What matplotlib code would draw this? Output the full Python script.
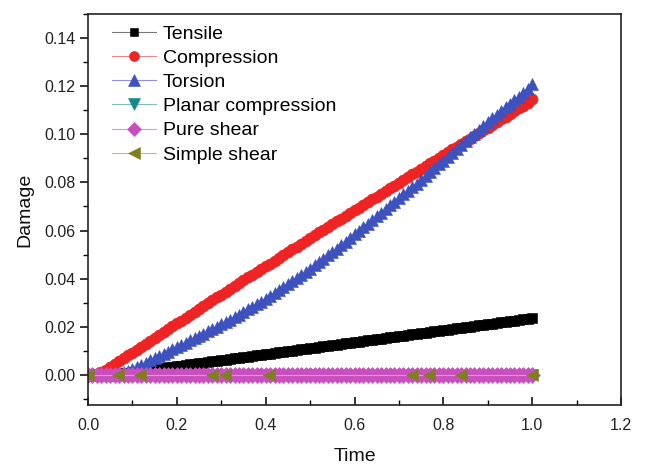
import matplotlib
matplotlib.use("Agg")
import matplotlib.pyplot as plt
from matplotlib.ticker import MultipleLocator

plt.rcParams['font.family'] = ['Liberation Sans', 'DejaVu Sans']

time = [round(i * 0.01, 2) for i in range(101)]

tensile = [0.0, 0.0, 0.0, 0.0, 0.0, 0.0, 0.0002, 0.0004, 0.0006, 0.0009,
           0.0011, 0.0014, 0.0016, 0.0019, 0.0021, 0.0024, 0.0026, 0.0029, 0.0031, 0.0034,
           0.00360, 0.00385, 0.00410, 0.00435, 0.00460, 0.00485, 0.00510, 0.00535, 0.00560, 0.00585,
           0.00610, 0.00635, 0.00660, 0.00685, 0.00710, 0.00735, 0.00760, 0.00785, 0.00810, 0.00835,
           0.00860, 0.00885, 0.00910, 0.00935, 0.00960, 0.00985, 0.01010, 0.01035, 0.01060, 0.01085,
           0.01110, 0.01135, 0.01160, 0.01185, 0.01210, 0.01235, 0.01260, 0.01285, 0.01310, 0.01335,
           0.01360, 0.01385, 0.01410, 0.01435, 0.01460, 0.01485, 0.01510, 0.01535, 0.01560, 0.01585,
           0.01610, 0.01635, 0.01660, 0.01685, 0.01710, 0.01735, 0.01760, 0.01785, 0.01810, 0.01835,
           0.01860, 0.01885, 0.01910, 0.01935, 0.01960, 0.01985, 0.02010, 0.02035, 0.02060, 0.02085,
           0.02110, 0.02135, 0.02160, 0.02185, 0.02210, 0.02235, 0.02260, 0.02285, 0.02310, 0.02335,
           0.02360]

compression = [0.0, 0.0, 0.0003, 0.0012, 0.0022, 0.0033, 0.0045, 0.0057, 0.0069, 0.0081,
               0.0093, 0.0105, 0.0118, 0.0130, 0.0142, 0.0154, 0.0166, 0.0178, 0.0190, 0.0202,
               0.0214, 0.0226, 0.0238, 0.0250, 0.0262, 0.0274, 0.0286, 0.0298, 0.0310, 0.0322,
               0.0334, 0.0346, 0.0358, 0.0369, 0.0381, 0.0393, 0.0405, 0.0416, 0.0428, 0.0440,
               0.0452, 0.0463, 0.0475, 0.0487, 0.0499, 0.0510, 0.0522, 0.0533, 0.0545, 0.0556,
               0.0568, 0.0580, 0.0592, 0.0603, 0.0615, 0.0626, 0.0638, 0.0649, 0.0661, 0.0672,
               0.0684, 0.0695, 0.0707, 0.0718, 0.0730, 0.0741, 0.0753, 0.0764, 0.0776, 0.0787,
               0.0799, 0.0810, 0.0822, 0.0833, 0.0845, 0.0856, 0.0868, 0.0879, 0.0891, 0.0902,
               0.0914, 0.0925, 0.0937, 0.0948, 0.0960, 0.0971, 0.0982, 0.0994, 0.1005, 0.1016,
               0.1028, 0.1039, 0.1051, 0.1062, 0.1074, 0.1085, 0.1096, 0.1108, 0.1119, 0.1131,
               0.1145]

torsion = [0.0, 0.0, 0.0, 0.0, 0.0, 0.0, 0.0003, 0.0007, 0.0012, 0.0018,
           0.0025, 0.0033, 0.0042, 0.0051, 0.0060, 0.0069, 0.0078, 0.0087, 0.0097, 0.0106,
           0.0116, 0.0125, 0.0134, 0.0144, 0.0153, 0.0163, 0.0172, 0.0182, 0.0191, 0.0201,
           0.0210, 0.0220, 0.0230, 0.0240, 0.0250, 0.0261, 0.0272, 0.0283, 0.0294, 0.0305,
           0.0316, 0.0328, 0.0340, 0.0352, 0.0364, 0.0376, 0.0389, 0.0402, 0.0415, 0.0428,
           0.0441, 0.0455, 0.0469, 0.0483, 0.0497, 0.0511, 0.0525, 0.0540, 0.0554, 0.0569,
           0.0584, 0.0599, 0.0614, 0.0629, 0.0644, 0.0659, 0.0674, 0.0689, 0.0705, 0.0720,
           0.0735, 0.0750, 0.0765, 0.0780, 0.0795, 0.0811, 0.0827, 0.0843, 0.0859, 0.0875,
           0.0891, 0.0907, 0.0923, 0.0939, 0.0955, 0.0971, 0.0987, 0.1003, 0.1019, 0.1035,
           0.1051, 0.1066, 0.1082, 0.1097, 0.1112, 0.1127, 0.1142, 0.1157, 0.1172, 0.1188,
           0.1208]

planar_time = [0.00, 0.06, 0.50, 1.00]
planar = [0.0, 0.0, 0.0, 0.0]

pure_shear = [0.0] * 101

simple_time = [0.00, 0.068, 0.117, 0.279, 0.309, 0.408, 0.730, 0.768, 0.840, 1.00]
simple_shear = [0.0] * 10

fig = plt.figure(figsize=(6.47, 4.65), dpi=100)
ax = fig.add_axes([88 / 647, 1 - 405 / 465, 533 / 647, 391 / 465])

ax.plot(time, tensile, color='#777777', lw=0.8, marker='s', ms=6.8, mew=0.4,
        mfc='black', mec='black', label='Tensile')
ax.plot(time, compression, color='#e88a8a', lw=0.8, marker='o', ms=8.0, mew=0.4,
        mfc='#ee2424', mec='#ee2424', label='Compression')
ax.plot(time, torsion, color='#8f8fe6', lw=0.8, marker='^', ms=9.0, mew=0.4,
        mfc='#3d52be', mec='#3d52be', label='Torsion')
ax.plot(planar_time, planar, color='#7fbdbd', lw=0.8, marker='v', ms=9.0, mew=0.4,
        mfc='#168a8a', mec='#168a8a', label='Planar compression')
ax.plot(time, pure_shear, color='#e98fe0', lw=0.8, marker='D', ms=8.3, mew=0.4,
        mfc='#c94fc0', mec='#c94fc0', label='Pure shear')
ax.plot(simple_time, simple_shear, color='#bcbc7a', lw=0.8, marker='<', ms=9.0, mew=0.4,
        mfc='#7f7f1e', mec='#7f7f1e', label='Simple shear')

ax.set_xlim(0, 1.2)
ax.set_ylim(-0.0125, 0.150)
ax.xaxis.set_major_locator(MultipleLocator(0.2))
ax.xaxis.set_minor_locator(MultipleLocator(0.1))
ax.yaxis.set_major_locator(MultipleLocator(0.02))
ax.yaxis.set_minor_locator(MultipleLocator(0.01))
ax.xaxis.set_major_formatter(plt.FuncFormatter(lambda v, p: f"{v:.1f}"))
ax.yaxis.set_major_formatter(plt.FuncFormatter(lambda v, p: f"{v:.2f}"))

ax.tick_params(axis='x', which='major', direction='in', length=6, width=1.1,
               labelsize=11.5, pad=9, labelcolor='#222222')
ax.tick_params(axis='x', which='minor', direction='in', length=3.5, width=1.0)
ax.tick_params(axis='y', which='major', direction='out', length=6, width=1.1,
               labelsize=11.5, pad=3, labelcolor='#222222')
ax.tick_params(axis='y', which='minor', direction='out', length=3.5, width=1.0)
for s in ax.spines.values():
    s.set_linewidth(1.2)
    s.set_color('#222222')

ax.set_xlabel('Time', fontsize=14, labelpad=11, color='#111111')
ax.set_ylabel('Damage', fontsize=14, labelpad=8, color='#111111')

leg = ax.legend(loc='upper left', bbox_to_anchor=(0.045, 0.972), frameon=False,
                fontsize=14, borderpad=0, borderaxespad=0, labelspacing=0.34,
                handlelength=2.27, handletextpad=0.36, markerscale=0.9)

fig.savefig('out.png', dpi=100)
